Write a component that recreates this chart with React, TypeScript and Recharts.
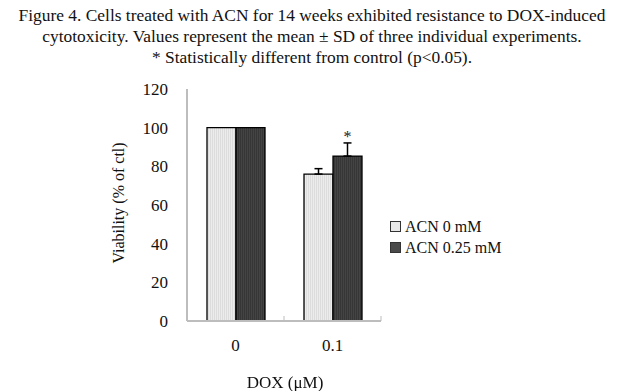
import React from 'react';
import { BarChart, Bar, XAxis, YAxis, ErrorBar, LabelList } from 'recharts';

const doses = ['0', '0.1'];
const acn0 = [100, 76];
const acn025 = [100, 85.3];
const acn0Err = [null, 2.8];
const acn025Err = [null, 6.8];
const marks = ['', '*'];
const yTicks = [0, 20, 40, 60, 80, 100, 120];

const data = doses.map((d, i) => ({
  dose: d,
  a: acn0[i],
  b: acn025[i],
  aErr: acn0Err[i] == null ? null : [0, acn0Err[i]],
  bErr: acn025Err[i] == null ? null : [0, acn025Err[i]],
  sig: marks[i],
}));

const serif = '"Liberation Serif", "DejaVu Serif", serif';
const axisGray = '#bdbdbd';

const XTick = (props: any) => {
  const { x, y, payload } = props;
  const edge = x + (payload.offset || 0);
  return (
    <g>
      <line x1={edge} y1={y} x2={edge} y2={y - 5} stroke={axisGray} />
      <text x={x} y={y + 18} dy="0.71em" textAnchor="middle" fontSize={17} fontFamily={serif} fill="#111">
        {payload.value}
      </text>
    </g>
  );
};

const App: React.FC = () => {
  return (
    <div style={{ position: 'fixed', left: 0, top: 0, width: 624, height: 391, background: '#fff', fontFamily: serif, color: '#111' }}>
      <div style={{ position: 'absolute', left: 0, top: 5, width: 624, textAlign: 'center', fontSize: 17.4, lineHeight: '21px' }}>
        <div>Figure 4. Cells treated with ACN for 14 weeks exhibited resistance to DOX-induced</div>
        <div>cytotoxicity. Values represent the mean ± SD of three individual experiments.</div>
        <div>* Statistically different from control (p&lt;0.05).</div>
      </div>

      <div style={{ position: 'absolute', left: 0, top: 0 }}>
        <BarChart
          width={624}
          height={391}
          data={data}
          margin={{ top: 89, right: 243, bottom: 40, left: 147 }}
          barSize={29}
          barGap={0}
        >
          <defs>
            <pattern id="lightStripe" width="2" height="4" patternUnits="userSpaceOnUse">
              <rect width="2" height="4" fill="#ececec" />
              <rect width="1" height="4" fill="#dcdcdc" />
            </pattern>
            <pattern id="darkStripe" width="2" height="4" patternUnits="userSpaceOnUse">
              <rect width="2" height="4" fill="#444" />
              <rect width="1" height="4" fill="#363636" />
            </pattern>
          </defs>
          <XAxis
            dataKey="dose"
            height={30}
            axisLine={{ stroke: axisGray, strokeWidth: 2 }}
            tickLine={false}
            tickSize={0}
            tickMargin={0}
            tick={<XTick />}
            interval={0}
          />
          <YAxis
            width={40}
            domain={[0, 120]}
            ticks={yTicks}
            axisLine={{ stroke: axisGray, strokeWidth: 2 }}
            tickLine={false}
            tickSize={0}
            tickMargin={19}
            tick={{ fontSize: 17, fontFamily: serif, fill: '#111' }}
          />
          <Bar dataKey="a" fill="url(#lightStripe)" stroke="#000" strokeWidth={1.3} isAnimationActive={false}>
            <ErrorBar dataKey="aErr" direction="y" width={4} stroke="#000" strokeWidth={1.5} />
          </Bar>
          <Bar dataKey="b" fill="url(#darkStripe)" stroke="#000" strokeWidth={1.3} isAnimationActive={false}>
            <ErrorBar dataKey="bErr" direction="y" width={4} stroke="#000" strokeWidth={1.5} />
            <LabelList dataKey="sig" position="top" offset={14} fontSize={16} fontFamily={serif} fill="#222" />
          </Bar>
        </BarChart>
      </div>

      <div
        style={{
          position: 'absolute',
          left: 119,
          top: 203,
          transform: 'translate(-50%, -50%) rotate(-90deg)',
          fontSize: 16,
          whiteSpace: 'nowrap',
        }}
      >
        Viability (% of ctl)
      </div>

      <div style={{ position: 'absolute', left: 285, top: 383, transform: 'translate(-50%, -50%)', fontSize: 17, whiteSpace: 'nowrap' }}>
        DOX (μM)
      </div>

      <div style={{ position: 'absolute', left: 390, top: 216, fontSize: 16, lineHeight: '21px' }}>
        {[
          { name: 'ACN 0 mM', fill: '#e8e8e8' },
          { name: 'ACN 0.25 mM', fill: '#4a4a4a' },
        ].map((it) => (
          <div key={it.name} style={{ display: 'flex', alignItems: 'center', whiteSpace: 'nowrap' }}>
            <span style={{ display: 'inline-block', width: 9, height: 9, background: it.fill, border: '1px solid #333', marginRight: 4 }} />
            {it.name}
          </div>
        ))}
      </div>
    </div>
  );
};

export default App;
